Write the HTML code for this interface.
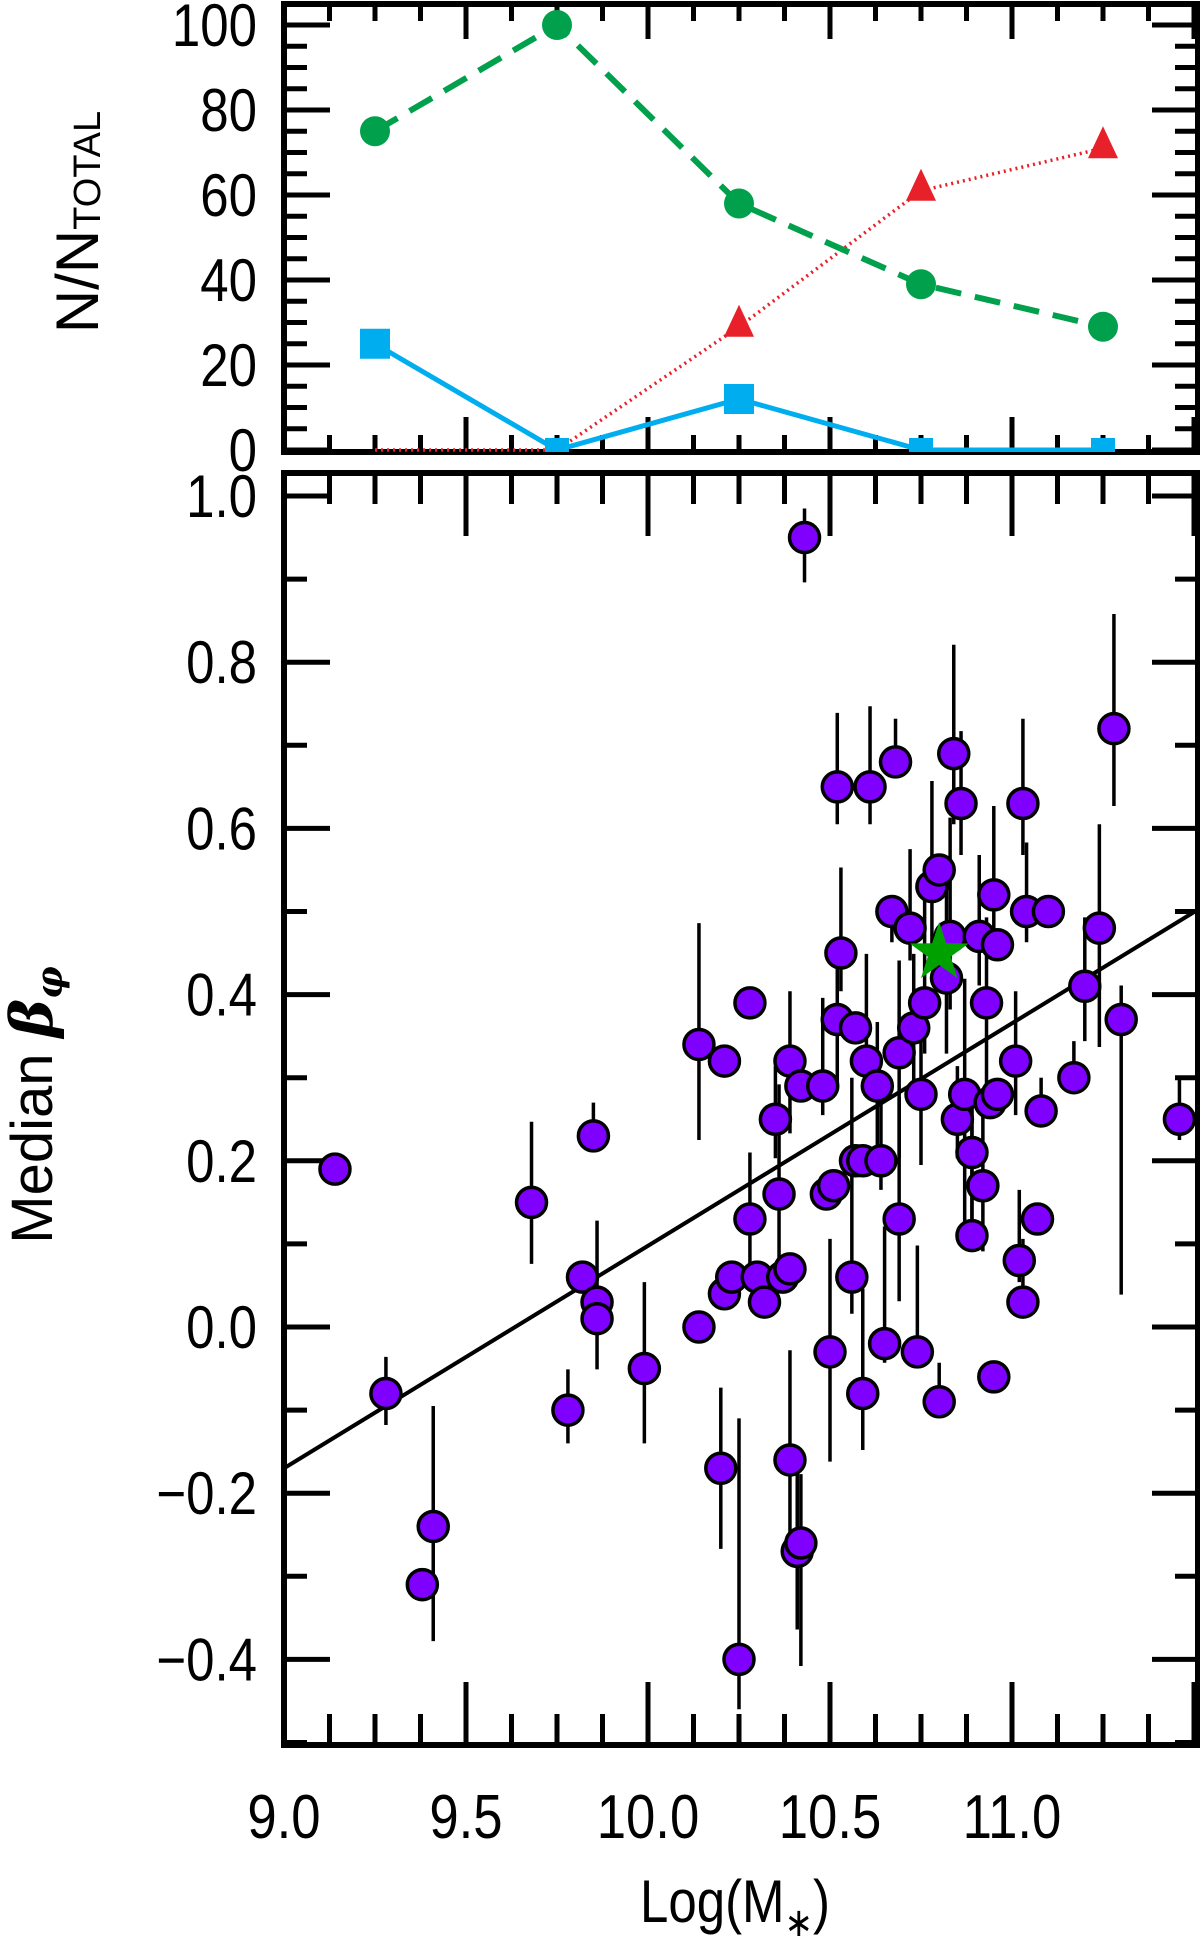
<!DOCTYPE html>
<html><head><meta charset="utf-8"><style>
html,body{margin:0;padding:0;background:#fff;}
svg{display:block;}
text{font-family:"Liberation Sans","DejaVu Sans",sans-serif;fill:#000;}
</style></head><body>
<svg id="chart" width="1200" height="1942" viewBox="0 0 1200 1942" xmlns="http://www.w3.org/2000/svg">
<g id="topPanel"></g>
<g id="botPanel"></g>
<text x="735" y="1922" font-size="60" text-anchor="middle" transform="translate(735 0) scale(0.85 1) translate(-735 0)">Log(M<tspan font-size="40" dy="14">∗</tspan><tspan dy="-14">)</tspan></text>
<text font-size="58" text-anchor="middle" transform="translate(52 1105) rotate(-90)">Median <tspan font-style="italic" font-weight="bold" font-family="DejaVu Serif, serif">β</tspan><tspan font-size="36" dy="10" font-style="italic" font-weight="bold" font-family="DejaVu Serif, serif">φ</tspan></text>
<text font-size="60" text-anchor="middle" transform="translate(98 222) rotate(-90)">N/N<tspan font-size="38" dy="2">TOTAL</tspan></text>
</svg>
<script>
const binX=[9.25,9.75,10.25,10.75,11.25];
const greenVals=[75,100,58,39,29];
const redVals=[0,0,29,61,71];
const blueVals=[25,0,12,0,0];
const topYTicks=[0,20,40,60,80,100];
const botYTicks=[1.0,0.8,0.6,0.4,0.2,0.0,-0.2,-0.4];
const xTickLabels=[9.0,9.5,10.0,10.5,11.0];
const ptX=[9.14,9.28,9.38,9.41,9.68,9.78,9.82,9.85,9.86,9.86,9.99,10.14,10.14,10.20,10.21,10.21,10.23,10.25,10.28,10.28,10.30,10.32,10.35,10.36,10.37,10.39,10.39,10.39,10.41,10.42,10.43,10.42,10.48,10.49,10.50,10.51,10.52,10.52,10.53,10.56,10.57,10.57,10.59,10.59,10.60,10.61,10.63,10.64,10.65,10.67,10.68,10.69,10.69,10.72,10.73,10.74,10.75,10.76,10.78,10.80,10.80,10.82,10.83,10.84,10.85,10.86,10.87,10.89,10.89,10.91,10.92,10.93,10.94,10.95,10.95,10.96,10.96,11.01,11.02,11.03,11.03,11.04,11.07,11.08,11.10,11.17,11.20,11.24,11.28,11.30,11.46];
const ptY=[0.19,-0.08,-0.31,-0.24,0.15,-0.10,0.06,0.23,0.03,0.01,-0.05,0.00,0.34,-0.17,0.32,0.04,0.06,-0.40,0.39,0.13,0.06,0.03,0.25,0.16,0.06,-0.16,0.07,0.32,-0.27,-0.26,0.95,0.29,0.29,0.16,-0.03,0.17,0.65,0.37,0.45,0.06,0.20,0.36,-0.08,0.20,0.32,0.65,0.29,0.20,-0.02,0.50,0.68,0.13,0.33,0.48,0.36,-0.03,0.28,0.39,0.53,0.55,-0.09,0.42,0.47,0.69,0.25,0.63,0.28,0.21,0.11,0.47,0.17,0.39,0.27,0.52,-0.06,0.28,0.46,0.32,0.08,0.03,0.63,0.50,0.13,0.26,0.50,0.30,0.41,0.48,0.72,0.37,0.25];
const errHi=[null,-0.036,-0.29,-0.095,0.247,-0.051,null,0.270,0.128,null,0.054,null,0.486,-0.073,null,null,null,-0.110,null,0.210,null,null,0.314,0.292,null,-0.028,null,0.404,-0.162,-0.177,0.985,null,0.396,null,0.106,null,0.739,0.463,0.553,0.300,null,null,0.046,null,0.449,0.747,0.367,0.285,0.121,0.516,0.732,0.277,0.441,0.575,0.449,0.098,0.404,0.531,0.657,null,-0.043,0.553,0.613,0.821,0.314,0.717,0.419,0.285,0.285,0.568,0.270,0.493,null,0.627,null,null,null,0.404,0.165,0.106,0.732,0.583,null,0.300,null,0.344,0.493,0.605,0.858,0.411,0.300];
const errLo=[null,-0.118,-0.33,-0.378,0.076,-0.140,null,0.218,-0.051,null,-0.140,null,0.225,-0.267,null,null,null,-0.460,null,0.046,null,null,0.203,0.054,null,-0.274,null,0.233,-0.364,-0.408,0.896,null,0.255,null,-0.162,null,0.605,0.285,0.404,0.016,null,null,-0.148,null,0.285,0.605,0.203,0.165,-0.043,0.463,0.672,0.031,0.203,0.441,0.285,-0.043,0.195,0.329,0.434,null,-0.095,0.329,0.382,0.605,0.203,0.568,0.106,0.106,0.098,0.411,0.091,0.270,null,0.449,null,null,null,0.255,0.054,0.016,0.568,0.463,null,0.247,null,0.300,0.344,0.337,0.627,0.039,0.225];
const starX=[10.80], starY=[0.45];
const fitX=[9.0,11.51], fitY=[-0.17,0.502];

const NS="http://www.w3.org/2000/svg";
const L=284,R=1198;
const TT=4,TB=452,BT=473,BB=1745;
const xs=v=>L+(v-9.0)*364;
const yt=v=>450-(v)*4.25;
const yb=v=>496+(1.0-v)*831;
function mk(p,tag,a){const e=document.createElementNS(NS,tag);for(const k in a)e.setAttribute(k,a[k]);p.appendChild(e);return e;}
const topG=document.getElementById('topPanel'),botG=document.getElementById('botPanel');

function frame(g,t,b,ymin,ymax,ystep,ymajor,yfn,xmaj,xmin,ymajLen,yminLen,name){
  const ax=mk(g,'g',{});
  
  
  for(let k=0;k<=20;k++){
    const v=9.0+k*0.125;const x=xs(v);const isMaj=(k%4===0);
    const len=isMaj?xmaj:xmin;
    mk(ax,'line',{x1:x,y1:b,x2:x,y2:b-len,stroke:'#000','stroke-width':5});
    mk(ax,'line',{x1:x,y1:t,x2:x,y2:t+len,stroke:'#000','stroke-width':5});
  }
  const n=Math.round((ymax-ymin)/ystep);
  for(let i=0;i<=n;i++){
    const v=ymin+i*ystep;const y=yfn(v);
    if(y<t-1||y>b+1)continue;
    const isMaj=Math.abs(v/ymajor-Math.round(v/ymajor))<1e-6;
    const len=isMaj?ymajLen:yminLen;
    mk(ax,'line',{x1:L,y1:y,x2:L+len,y2:y,stroke:'#000','stroke-width':5});
    mk(ax,'line',{x1:R,y1:y,x2:R-len,y2:y,stroke:'#000','stroke-width':5});
  }
  mk(ax,'rect',{x:L,y:t,width:R-L,height:b-t,fill:'none',stroke:'#000','stroke-width':6});
}
frame(topG,TT,TB,0,100,5,20,yt,35,17,46,23,'top');
frame(botG,BT,BB,-0.5,1.0,0.1,0.2,yb,63,31,46,23,'bottom');

topYTicks.forEach(v=>{const t=mk(topG,'text',{x:257,y:yt(v)+21,'font-size':60,'text-anchor':'end',transform:'translate(257 0) scale(0.85 1) translate(-257 0)'});


t.textContent=v;});
botYTicks.forEach(v=>{const t=mk(botG,'text',{x:257,y:yb(v)+21,'font-size':60,'text-anchor':'end',transform:'translate(257 0) scale(0.85 1) translate(-257 0)'});


t.textContent=(v<0?'\u2212':'')+Math.abs(v).toFixed(1);});
xTickLabels.forEach(v=>{const x=xs(v);const t=mk(botG,'text',{x:x,y:1838,'font-size':62,'text-anchor':'middle',transform:'translate('+x+' 0) scale(0.85 1) translate('+(-x)+' 0)'});


t.textContent=v.toFixed(1);});

function pts(vals){return binX.map((x,i)=>xs(x)+','+yt(vals[i])).join(' ');}
const cp=mk(topG,'clipPath',{id:'topclip'});mk(cp,'rect',{x:L,y:TT,width:R-L,height:TB-TT});
const tg=mk(topG,'g',{'clip-path':'url(#topclip)'});
const rl=mk(tg,'polyline',{points:pts(redVals),fill:'none',stroke:'#e8202a','stroke-width':3.5,'stroke-dasharray':'2 4'});


const bl=mk(tg,'polyline',{points:pts(blueVals),fill:'none',stroke:'#00aeef','stroke-width':5});


const gl=mk(tg,'polyline',{points:pts(greenVals),fill:'none',stroke:'#00a04c','stroke-width':6,'stroke-dasharray':'26 14'});


binX.forEach((x,i)=>{
  const cx=xs(x);
  const g=mk(tg,'circle',{cx:cx,cy:yt(greenVals[i]),r:15,fill:'#00a04c'});
  
  
  if(i>=2){const y=yt(redVals[i]);const tr=mk(tg,'polygon',{points:cx+','+(y-22)+' '+(cx-15)+','+(y+10)+' '+(cx+15)+','+(y+10),fill:'#e8202a'});
  
  }
  const y=yt(blueVals[i]);const s=blueVals[i]===0?12:15;
  const sq=mk(tg,'rect',{x:cx-s,y:y-s,width:2*s,height:2*s,fill:'#00aeef'});
  
  
});

const cb=mk(botG,'clipPath',{id:'botclip'});mk(cb,'rect',{x:L,y:BT,width:R-L,height:BB-BT});
const bg=mk(botG,'g',{'clip-path':'url(#botclip)'});
ptX.forEach((x,i)=>{if(errHi[i]===null)return;
  const e=mk(bg,'line',{x1:xs(x),x2:xs(x),y1:yb(errHi[i]),y2:yb(errLo[i]),stroke:'#000','stroke-width':3.5});
  
  });
const fl=mk(bg,'line',{x1:xs(fitX[0]),y1:yb(fitY[0]),x2:xs(fitX[1]),y2:yb(fitY[1]),stroke:'#000','stroke-width':4});


ptX.forEach((x,i)=>{
  const c=mk(bg,'circle',{cx:xs(x),cy:yb(ptY[i]),r:15,fill:'#7f00ff',stroke:'#000','stroke-width':3.5});
  
  });
starX.forEach((x,i)=>{const cx=xs(x),cy=yb(starY[i]);let p=[];
  for(let k=0;k<10;k++){const a=-Math.PI/2+k*Math.PI/5;const r=k%2?12:31;p.push((cx+r*Math.cos(a)).toFixed(1)+','+(cy+r*Math.sin(a)).toFixed(1));}
  const s=mk(bg,'polygon',{points:p.join(' '),fill:'#00a000'});
  
  });
</script>
</body></html>
